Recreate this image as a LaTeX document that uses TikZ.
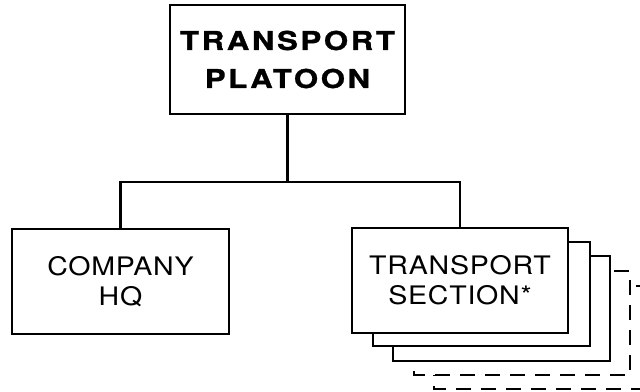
\documentclass[tikz,border=0pt]{standalone}
\usepackage{fontspec}
\newfontfamily\regsp[FakeStretch=1.12,LetterSpace=3]{TeX Gyre Heros}
\newfontfamily\boldsp[FakeStretch=1.2,LetterSpace=10,FakeBold=1.2]{TeX Gyre Heros Bold}
\begin{document}
\begin{tikzpicture}[x=1pt,y=-1pt,
  unitbox/.style={draw,line width=2.5pt,fill=white,inner sep=0pt,line join=miter,
    minimum width=#1,minimum height=105pt,align=center,
    font=\regsp\fontsize{25.5}{30}\selectfont},
  stackbox/.style={draw,line width=2.5pt,fill=white,line join=miter},
  ghostbox/.style={draw,line width=1.2pt,fill=white,dash pattern=on 15pt off 10pt},
  link/.style={line width=2.5pt,line join=miter}]
\useasboundingbox (0,0) rectangle (640,391);
\begin{scope}
\clip (0,0) rectangle (640,391);
% stacked sections behind the front one
\draw[ghostbox] (434,286) rectangle (652,389);
\draw[ghostbox] (414,271) rectangle (630,375);
\draw[stackbox] (393,256) rectangle (610,361);
\draw[stackbox] (373,242) rectangle (590,346);
\end{scope}
\node[unitbox=235pt,minimum height=109pt,font=\boldsp\fontsize{26}{38}\selectfont]
  (plt) at (287.5,59.5) {TRANSPORT\\PLATOON};
\node[unitbox=217pt] (hq) at (120.5,281.5) {COMPANY\\HQ};
\node[unitbox=216pt] (ts) at (460,280.5) {TRANSPORT\\SECTION*};
\coordinate (bus) at (287.5,182);
\draw[link] (plt.south) -- (bus);
\draw[link] (bus) -| (hq.north);
\draw[link] (bus) -| (ts.north);
\end{tikzpicture}
\end{document}
